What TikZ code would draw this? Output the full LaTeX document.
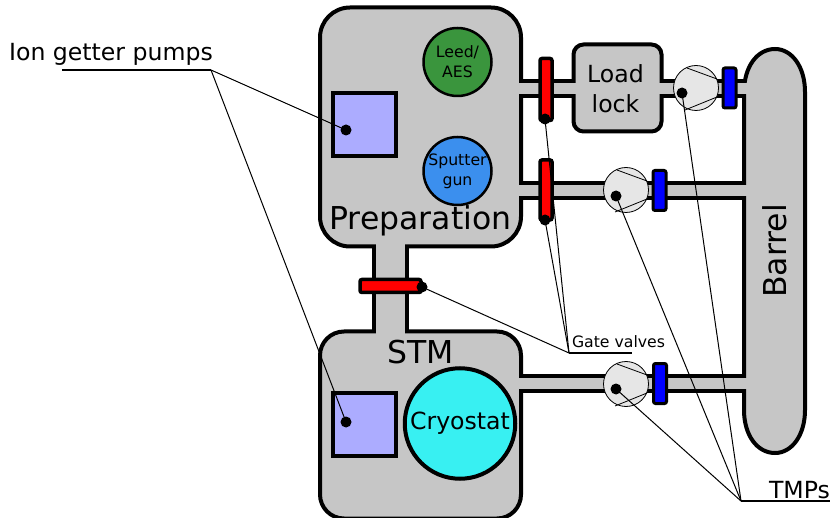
\documentclass[tikz,border=0pt]{standalone}
\usepackage{fontspec}
\setmainfont{DejaVu Sans}
\usetikzlibrary{arrows.meta}

\definecolor{chambergrey}{HTML}{C6C6C6}
\definecolor{pumpgrey}{HTML}{E6E6E6}
\definecolor{leedgreen}{HTML}{3A953D}
\definecolor{gunblue}{HTML}{3B8FEE}
\definecolor{igplilac}{HTML}{ACACFF}
\definecolor{cryocyan}{HTML}{38F0F2}

\tikzset{
  chamber/.style={draw=black, fill=chambergrey, line width=4pt, rectangle, inner sep=0pt},
  igp/.style={draw=black, fill=igplilac, line width=4pt, rectangle, minimum size=63pt, inner sep=0pt},
  port/.style={draw=black, circle, line width=2.5pt, minimum size=68pt, inner sep=0pt,
    align=center, font=\fontsize{15.7}{20}\selectfont},
  pump/.style={draw=black, fill=pumpgrey, circle, line width=0.8pt, minimum size=45pt, inner sep=0pt},
  vane/.style={line width=0.8pt},
  gatevalve/.style={draw=black, fill=red, line width=3.5pt, rectangle, rounded corners=2pt, inner sep=0pt},
  tmpvalve/.style={draw=black, fill=blue, line width=3pt, rectangle, rounded corners=2pt,
    minimum width=13pt, minimum height=40pt, inner sep=0pt},
  dot/.style={fill=black, circle, minimum size=11pt, inner sep=0pt},
  leader/.style={line width=1pt},
  underline/.style={line width=1.8pt},
  wall/.style={line width=4pt},
  bigtext/.style={font=\fontsize{31.5}{36}\selectfont, inner sep=0pt},
  midtext/.style={font=\fontsize{23.6}{30}\selectfont, inner sep=0pt, align=center},
}

\begin{document}
\begin{tikzpicture}[x=1pt, y=-1pt]

\useasboundingbox (0,0) rectangle (832,518);

% Chambers
\node[chamber, rounded corners=30pt, minimum width=201pt, minimum height=239pt] (prep) at (420.5,127) {};
\node[chamber, rounded corners=24pt, minimum width=201pt, minimum height=187pt] (stm) at (420.5,425) {};
\node[chamber, rounded corners=10pt, minimum width=88pt, minimum height=87pt] (loadlock) at (617.5,88) {};
\filldraw[wall, fill=chambergrey] (744,92) .. controls (744,67) and (757,49) .. (775,49)
  .. controls (792,49) and (805,67) .. (805,92) -- (805,410)
  .. controls (805,435) and (792,453) .. (775,453)
  .. controls (757,453) and (744,435) .. (744,410) -- cycle;

% Tubes
\fill[chambergrey] (516,83) rectangle (579,94);
\fill[chambergrey] (656,83) rectangle (748,94);
\fill[chambergrey] (516,185) rectangle (748,196);
\fill[chambergrey] (516,378) rectangle (748,389);
\fill[chambergrey] (376,241) rectangle (405,337);
\draw[wall] (520,81) -- (575,81);
\draw[wall] (520,96) -- (575,96);
\draw[wall] (660,81) -- (744,81);
\draw[wall] (660,96) -- (744,96);
\draw[wall] (520,183) -- (744,183);
\draw[wall] (520,198) -- (744,198);
\draw[wall] (520,376) -- (744,376);
\draw[wall] (520,391) -- (744,391);
\draw[wall] (374,245) -- (374,333);
\draw[wall] (407,245) -- (407,333);

% Chamber labels
\node[bigtext] (preplabel) at (420.5,221) {Preparation};
\node[bigtext] (stmlabel) at (420.5,352) {STM};
\node[bigtext, rotate=90] (barrel) at (775,251) {Barrel};
\node[midtext] (loadlabel) at (615.5,89) {Load\\lock};

% Ports and cryostat
\node[port, fill=leedgreen] (leed) at (457.5,62) {Leed/\\AES};
\node[port, fill=gunblue] (gun) at (457.5,171) {Sputter\\gun};
\node[draw=black, fill=cryocyan, circle, line width=4pt, minimum size=110.5pt, inner sep=0pt,
  font=\fontsize{23.6}{30}\selectfont] (cryo) at (460,423.5) {Cryostat};

% Ion getter pumps
\node[igp] (igpprep) at (364.5,124.5) {};
\node[igp] (igpstm) at (364.5,424.5) {};
\node[dot] (igpprepdot) at (346,130) {};
\node[dot] (igpstmdot) at (346,422) {};

% Turbo pumps
\node[pump] (tmpa) at (696,88) {};
\node[pump] (tmpb) at (626,190) {};
\node[pump] (tmpc) at (626,384) {};
\draw[vane] (687,68) -- (717,79);
\draw[vane] (685,110) -- (717,97);
\draw[vane] (617,170) -- (647,181);
\draw[vane] (615,212) -- (647,199);
\draw[vane] (617,364) -- (647,375);
\draw[vane] (615,406) -- (647,393);
\node[dot] (tmpadot) at (682,93) {};
\node[dot] (tmpbdot) at (616,196) {};
\node[dot] (tmpcdot) at (616,389) {};

% Valves
\node[tmpvalve] (bluea) at (729.5,88) {};
\node[tmpvalve] (blueb) at (659.5,190.5) {};
\node[tmpvalve] (bluec) at (660,383.5) {};
\node[gatevalve, minimum width=12pt, minimum height=62pt] (reda) at (546,89.5) {};
\node[gatevalve, minimum width=12pt, minimum height=60pt] (redb) at (546,190) {};
\node[gatevalve, minimum width=61pt, minimum height=13pt] (redc) at (390.5,286) {};
\node[dot] (redadot) at (545,119) {};
\node[dot] (redbdot) at (545,220) {};
\node[dot] (redcdot) at (422,287) {};

% Callouts
\coordinate (ionhub) at (211,70);
\coordinate (ionend) at (62,70);
\coordinate (gatehub) at (569,353);
\coordinate (gateend) at (632,353);
\coordinate (tmphub) at (741,501);
\coordinate (tmpend) at (830,501);

\draw[underline] (ionend) -- (ionhub);
\draw[underline] (gatehub) -- (gateend);
\draw[underline] (tmphub) -- (tmpend);

\draw[leader] (ionhub) -- (igpprepdot.center);
\draw[leader] (ionhub) -- (igpstmdot.center);
\draw[leader] (gatehub) -- (redadot.center);
\draw[leader] (gatehub) -- (redbdot.center);
\draw[leader] (gatehub) -- (redcdot.center);
\draw[leader] (tmphub) -- (tmpadot.center);
\draw[leader] (tmphub) -- (tmpbdot.center);
\draw[leader] (tmphub) -- (tmpcdot.center);

% Labels
\node[midtext] (ionlabel) at (111,54.5) {Ion getter pumps};
\node[font=\fontsize{15.7}{20}\selectfont, inner sep=0pt] (gatelabel) at (618.5,342) {Gate valves};
\node[midtext] (tmplabel) at (799.5,490) {TMPs};

\end{tikzpicture}
\end{document}
